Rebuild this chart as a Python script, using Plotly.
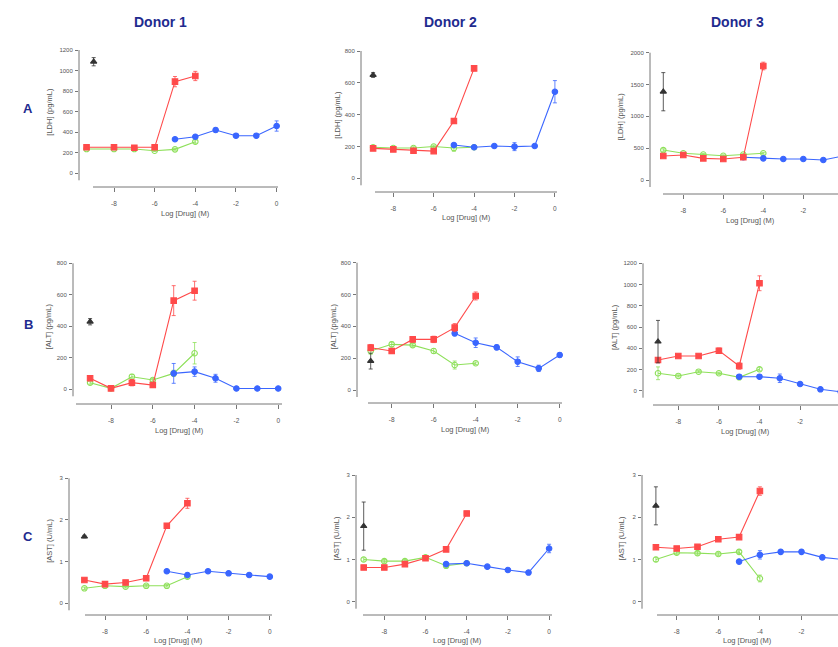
import plotly.graph_objects as go

W, H = 838, 647

# ---------------- data ----------------
X_TICKS = [-8, -6, -4, -2, 0]
X_TICK_LABELS = ["-8", "-6", "-4", "-2", "0"]
X_RED = [-9, -8, -7, -6, -5, -4]
X_RED_D1A = [-9.35, -8, -7, -6, -5, -4]
X_BLUE = [-5, -4, -3, -2, -1, 0]
X_BLACK = [-9]

DONORS = ["Donor 1", "Donor 2", "Donor 3"]
ROW_LABELS = ["A", "B", "C"]
Y_TITLES = ["[LDH] (pg/mL)", "[ALT] (pg/mL)", "[AST] (U/mL)"]
X_TITLE = "Log [Drug] (M)"

# Row A
A1_red = [253, 253, 249, 253, 892, 947]
A1_red_err = [10, 10, 10, 10, 50, 45]
A1_green = [236, 236, 236, 220, 233, 308]
A1_green_err = [8, 8, 8, 8, 8, 15]
A1_blue = [331, 356, 421, 366, 366, 460]
A1_blue_err = [15, 15, 20, 15, 15, 50]
A1_black = [1086]
A1_black_err = [40]

A2_red = [188, 182, 173, 171, 360, 691]
A2_red_err = [8, 8, 8, 8, 15, 15]
A2_green = [195, 190, 190, 200, 190, 195]
A2_green_err = [8, 8, 8, 8, 20, 8]
A2_blue = [209, 195, 203, 199, 203, 544]
A2_blue_err = [10, 8, 8, 25, 8, 70]
A2_black = [649]
A2_black_err = [15]

A3_red = [377, 393, 340, 330, 357, 1791]
A3_red_err = [20, 20, 15, 15, 20, 60]
A3_green = [470, 420, 400, 380, 400, 420]
A3_green_err = [20, 15, 15, 15, 15, 15]
A3_blue = [357, 340, 330, 330, 314, 377]
A3_blue_err = [15, 20, 15, 15, 15, 15]
A3_black = [1387]
A3_black_err = [300]

# Row B
B1_red = [70, 6, 42, 27, 563, 626]
B1_red_err = [15, 8, 20, 15, 95, 60]
B1_green = [42, 6, 80, 59, 101, 229]
B1_green_err = [10, 8, 15, 10, 20, 68]
B1_blue = [101, 112, 70, 5, 5, 5]
B1_blue_err = [63, 30, 25, 5, 5, 5]
B1_black = [429]
B1_black_err = [20]

B2_red = [266, 245, 318, 318, 392, 591]
B2_red_err = [20, 15, 15, 20, 25, 25]
B2_green = [245, 287, 282, 245, 157, 168]
B2_green_err = [20, 15, 10, 15, 25, 8]
B2_blue = [356, 297, 268, 178, 136, 220]
B2_blue_err = [15, 30, 15, 30, 20, 15]
B2_black = [182]
B2_black_err = [50]

B3_red = [289, 327, 327, 377, 233, 1012]
B3_red_err = [20, 15, 15, 25, 30, 70]
B3_green = [164, 139, 179, 164, 126, 202]
B3_green_err = [60, 10, 10, 10, 10, 15]
B3_blue = [132, 132, 117, 63, 13, -10]
B3_blue_err = [15, 10, 40, 10, 10, 10]
B3_black = [462]
B3_black_err = [200]

# Row C
C1_red = [0.56, 0.46, 0.50, 0.60, 1.86, 2.40]
C1_red_err = [0.04, 0.06, 0.05, 0.03, 0.05, 0.12]
C1_green = [0.36, 0.42, 0.40, 0.42, 0.42, 0.64]
C1_green_err = [0.03, 0.03, 0.03, 0.03, 0.03, 0.04]
C1_blue = [0.77, 0.68, 0.77, 0.72, 0.68, 0.64]
C1_blue_err = [0.04, 0.04, 0.04, 0.04, 0.04, 0.04]
C1_black = [1.60]
C1_black_err = [0.03]

C2_red = [0.81, 0.81, 0.89, 1.03, 1.24, 2.09]
C2_red_err = [0.04, 0.04, 0.04, 0.04, 0.04, 0.05]
C2_green = [1.00, 0.96, 0.96, 1.05, 0.85, 0.91]
C2_green_err = [0.04, 0.04, 0.04, 0.04, 0.04, 0.04]
C2_blue = [0.89, 0.91, 0.83, 0.75, 0.69, 1.26]
C2_blue_err = [0.03, 0.03, 0.03, 0.03, 0.03, 0.10]
C2_black = [1.79]
C2_black_err = [0.57]

C3_red = [1.29, 1.26, 1.30, 1.48, 1.53, 2.62]
C3_red_err = [0.04, 0.04, 0.04, 0.04, 0.04, 0.10]
C3_green = [1.00, 1.16, 1.15, 1.13, 1.18, 0.55]
C3_green_err = [0.05, 0.04, 0.04, 0.04, 0.04, 0.08]
C3_blue = [0.95, 1.11, 1.18, 1.18, 1.05, 1.00]
C3_blue_err = [0.04, 0.10, 0.04, 0.04, 0.04, 0.04]
C3_black = [2.27]
C3_black_err = [0.45]

Y_TICKS = [
    [[0, 200, 400, 600, 800, 1000, 1200], [0, 200, 400, 600, 800], [0, 500, 1000, 1500, 2000]],
    [[0, 200, 400, 600, 800], [0, 200, 400, 600, 800], [0, 200, 400, 600, 800, 1000, 1200]],
    [[0, 1, 2, 3], [0, 1, 2, 3], [0, 1, 2, 3]],
]

PANEL_DATA = [
    [(A1_red, A1_red_err, A1_green, A1_green_err, A1_blue, A1_blue_err, A1_black, A1_black_err),
     (A2_red, A2_red_err, A2_green, A2_green_err, A2_blue, A2_blue_err, A2_black, A2_black_err),
     (A3_red, A3_red_err, A3_green, A3_green_err, A3_blue, A3_blue_err, A3_black, A3_black_err)],
    [(B1_red, B1_red_err, B1_green, B1_green_err, B1_blue, B1_blue_err, B1_black, B1_black_err),
     (B2_red, B2_red_err, B2_green, B2_green_err, B2_blue, B2_blue_err, B2_black, B2_black_err),
     (B3_red, B3_red_err, B3_green, B3_green_err, B3_blue, B3_blue_err, B3_black, B3_black_err)],
    [(C1_red, C1_red_err, C1_green, C1_green_err, C1_blue, C1_blue_err, C1_black, C1_black_err),
     (C2_red, C2_red_err, C2_green, C2_green_err, C2_blue, C2_blue_err, C2_black, C2_black_err),
     (C3_red, C3_red_err, C3_green, C3_green_err, C3_blue, C3_blue_err, C3_black, C3_black_err)],
]

# ---------------- layout geometry (pixels) ----------------
# yline_x, xline_y, px(-8), px/unit, py(0), py(ymax), ymax, xline start, xline end, right edge, ytitle x
GEOM = [
    [(79, 187, 114.0, 20.33, 173.3, 50.0, 1200, 93, 278, 282, 50),
     (361, 192, 393.3, 20.2, 178.3, 51.0, 800, 375, 557, 562, 338),
     (650, 194, 683.3, 20.0, 180.0, 52.7, 2000, 663, 838, 838, 620)],
    [(73, 404, 111.0, 20.9, 389.3, 263.3, 800, 76, 282, 285, 48),
     (357, 403, 391.7, 21.0, 390.0, 262.7, 800, 368, 562, 566, 333),
     (643, 405, 678.3, 20.3, 390.7, 263.3, 1200, 653, 838, 838, 614)],
    [(69, 615, 105.0, 20.6, 603.3, 478.3, 3, 85, 272, 276, 50),
     (356, 615, 384.3, 20.6, 601.7, 475.0, 3, 363, 552, 556, 336),
     (642, 615, 676.7, 20.8, 601.7, 475.0, 3, 657, 838, 838, 621)],
]

RED = "#ff4a4a"
GREEN = "#8ee05a"
BLUE = "#3a66ff"
BLACK = "#333333"
NAVY = "#1f2b8f"
AXIS_COL = "#777777"
TXT_COL = "#555555"
FONT = "Liberation Sans, Arial, sans-serif"

fig = go.Figure()
shapes = []
annotations = []


def series(xs, ys, err, color, symbol, xa, ya, line=True):
    fig.add_trace(go.Scatter(
        x=xs, y=ys, xaxis=xa, yaxis=ya,
        mode="lines+markers" if line else "markers",
        line=dict(color=color, width=1.1),
        marker=dict(symbol=symbol, size=5.5, color=color,
                    line=dict(color=color, width=1.1)),
        error_y=dict(type="data", array=err, visible=True, color=color,
                     thickness=0.8, width=2),
        showlegend=False, hoverinfo="skip",
    ))


idx = 0
for r in range(3):
    for c in range(3):
        idx += 1
        (yl, xl, p8, k, py0, pyt, ymax, xs, xe, right, ytx) = GEOM[r][c]
        red, red_e, green, green_e, blue, blue_e, black, black_e = PANEL_DATA[r][c]
        top_px = pyt - 6
        x0 = -8 + (yl - p8) / k
        x1 = -8 + (right - p8) / k
        s = (py0 - pyt) / ymax
        y0 = -(xl - py0) / s
        y1 = (py0 - top_px) / s
        sfx = "" if idx == 1 else str(idx)
        xa, ya = "x" + sfx, "y" + sfx
        fig.layout["xaxis" + sfx] = dict(
            domain=[yl / W, right / W], range=[x0, x1], anchor=ya,
            showline=False, showgrid=False, zeroline=False,
            tickmode="array", tickvals=X_TICKS, ticktext=X_TICK_LABELS,
            ticks="outside", ticklen=4, tickwidth=1, tickcolor=AXIS_COL,
            ticklabelstandoff=6,
            tickfont=dict(size=6.5, color=TXT_COL, family=FONT),
        )
        fig.layout["yaxis" + sfx] = dict(
            domain=[1 - xl / H, 1 - top_px / H], range=[y0, y1], anchor=xa,
            showline=False, showgrid=False, zeroline=False,
            tickmode="array", tickvals=Y_TICKS[r][c],
            ticks="outside", ticklen=3, tickwidth=1, tickcolor=AXIS_COL,
            ticklabelstandoff=1,
            tickfont=dict(size=6, color=TXT_COL, family=FONT),
        )
        xr = X_RED_D1A if (r == 0 and c == 0) else X_RED
        series(xr, green, green_e, GREEN, "circle-open", xa, ya)
        series(X_BLUE, blue, blue_e, BLUE, "circle", xa, ya)
        series(xr, red, red_e, RED, "square", xa, ya)
        series(X_BLACK, black, black_e, BLACK, "triangle-up", xa, ya, line=False)

        # axis lines (detached, Prism-like)
        shapes.append(dict(type="line", xref="paper", yref="paper",
                           x0=yl / W, x1=yl / W, y0=1 - pyt / H, y1=1 - (py0 + 7) / H,
                           line=dict(color=AXIS_COL, width=1)))
        shapes.append(dict(type="line", xref="paper", yref="paper",
                           x0=xs / W, x1=xe / W, y0=1 - xl / H, y1=1 - xl / H,
                           line=dict(color=AXIS_COL, width=1)))
        # axis titles
        annotations.append(dict(text=Y_TITLES[r], xref="paper", yref="paper",
                                x=ytx / W, y=1 - ((pyt + py0) / 2) / H,
                                textangle=-90, showarrow=False,
                                xanchor="center", yanchor="middle",
                                font=dict(size=7.5, color=TXT_COL, family=FONT)))
        annotations.append(dict(text=X_TITLE, xref="paper", yref="paper",
                                x=((xs + xe) / 2) / W, y=1 - min(xl + 26, 640) / H,
                                showarrow=False, xanchor="center", yanchor="middle",
                                font=dict(size=7.5, color=TXT_COL, family=FONT)))

# donor headers and row labels
for name, cx in zip(DONORS, [160, 450, 737]):
    annotations.append(dict(text="<b>" + name + "</b>", xref="paper", yref="paper",
                            x=cx / W, y=1 - 22 / H, showarrow=False,
                            xanchor="center", yanchor="middle",
                            font=dict(size=14, color=NAVY, family=FONT)))
for lab, cy in zip(ROW_LABELS, [108, 324, 536]):
    annotations.append(dict(text="<b>" + lab + "</b>", xref="paper", yref="paper",
                            x=28 / W, y=1 - cy / H, showarrow=False,
                            xanchor="center", yanchor="middle",
                            font=dict(size=13, color=NAVY, family=FONT)))

fig.update_layout(
    width=W, height=H, margin=dict(l=0, r=0, t=0, b=0),
    paper_bgcolor="white", plot_bgcolor="white",
    shapes=shapes, annotations=annotations, showlegend=False,
)

fig.write_html(
    "out.html",
    config={"displayModeBar": False},
    post_script="document.body.style.margin='0px';document.body.style.overflow='hidden';",
)
